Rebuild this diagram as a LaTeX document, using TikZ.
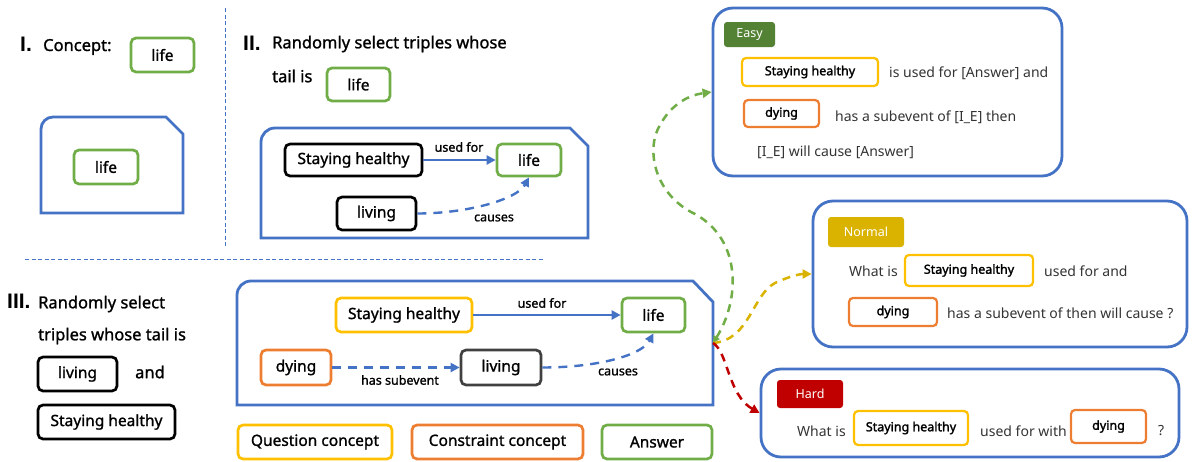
\documentclass[tikz,border=0pt]{standalone}
\usepackage{fontspec}
\setmainfont{Noto Sans}[BoldFont={Noto Sans}, BoldFeatures={FakeBold=2.5}]
\newfontfamily\medf{Noto Sans}[FakeBold=1.2]
\newfontfamily\semif{Noto Sans}[FakeBold=1.8]
\newfontfamily\romf{Liberation Sans}
\usetikzlibrary{arrows.meta}
\definecolor{cblue}{HTML}{4472C4}
\definecolor{cgreen}{HTML}{70AD47}
\definecolor{cyellow}{HTML}{FFC000}
\definecolor{corange}{HTML}{ED7D31}
\definecolor{cdgreen}{HTML}{548235}
\definecolor{cgold}{HTML}{DAB300}
\definecolor{cred}{HTML}{C00000}
\definecolor{cgray}{HTML}{404040}
\definecolor{ctext}{HTML}{333333}
\newcommand\fsz[1]{\fontsize{#1pt}{#1pt}\selectfont}
\begin{document}
\begin{tikzpicture}[x=1pt,y=-1pt,
  cbox/.style={draw, rounded corners=5pt, line width=2.7pt, inner sep=0pt, font=\medf\fsz{15.5}},
  gbox/.style={cbox, draw=cgreen},
  kbox/.style={cbox, draw=black},
  ybox/.style={cbox, draw=cyellow},
  obox/.style={cbox, draw=corange},
  dbox/.style={cbox, draw=cgray},
  pbox/.style={draw, rounded corners=4pt, line width=2.2pt, inner sep=0pt, font=\semif\fsz{12.5}},
  frame/.style={draw=cblue, line width=2.8pt},
  panel/.style={draw=cblue, line width=2.8pt, rounded corners=20pt, inner sep=0pt},
  tag/.style={rounded corners=3pt, inner sep=0pt, text=white, font=\fsz{12.5}},
  head/.style={anchor=west, inner sep=0pt, font=\medf\fsz{16.5}},
  roman/.style={anchor=west, inner sep=0pt, font=\romf\bfseries\fsz{21}},
  ptext/.style={anchor=west, inner sep=0pt, text=ctext, font=\fsz{14}},
  elabel/.style={inner sep=0pt, font=\medf\fsz{12.5}},
  rel/.style={cblue, line width=2.4pt, -{Triangle[length=9pt,width=9pt]}},
  drel/.style={rel, dash pattern=on 9pt off 7pt},
  sep/.style={cblue, line width=0.9pt, dash pattern=on 4pt off 2.5pt},
  darr/.style={line width=2.5pt, dash pattern=on 8pt off 6pt, -{Triangle[length=9pt,width=9pt]}}
]
\useasboundingbox (0,0) rectangle (1192,461);

% separators
\draw[sep] (225,8) -- (225,248);
\draw[sep] (25,259) -- (543,259);

% ---- Section I
\node[roman] (r1) at (20,44) {I.};
\node[head] (h1) at (43,47) {Concept:};
\node[gbox, minimum width=63, minimum height=34] (l1) at (162.5,55) {life};
\draw[frame] (41,213) [rounded corners=12pt]-- (41,117) [sharp corners]-- (166,117) -- (183,134) -- (183,213) -- cycle;
\node[gbox, minimum width=64, minimum height=34] (l1b) at (106,167) {life};

% ---- Section II
\node[roman] (r2) at (243,43) {II.};
\node[head] (h2a) at (272,44) {Randomly select triples whose};
\node[head] (h2b) at (272,76) {tail is};
\node[gbox, minimum width=63, minimum height=33] (l2) at (358.5,84.5) {life};
\draw[frame] (261,238) [rounded corners=14pt]-- (261,128) [sharp corners]-- (570,128) -- (588,146) -- (588,238) -- cycle;
\node[kbox, minimum width=137, minimum height=32] (sh2) at (353.5,160) {Staying healthy};
\node[gbox, minimum width=64, minimum height=32] (life2) at (529,160) {life};
\node[kbox, minimum width=79, minimum height=33] (liv2) at (376.5,213.5) {living};
\draw[rel] (sh2) -- (life2);
\node[elabel] (uf2) at (459,147) {used for};
\draw[drel] (liv2.east) .. controls +(50,0) and +(-12,22) .. (life2.south);
\node[elabel] (ca2) at (494,218) {causes};

% ---- Section III
\node[roman] (r3) at (7,301) {III.};
\node[head] (h3a) at (38,304) {Randomly select};
\node[head] (h3b) at (38,336) {triples whose tail is};
\node[kbox, minimum width=79, minimum height=34] (liv3) at (77.5,374) {living};
\node[head] (and3) at (135,372) {and};
\node[kbox, minimum width=137, minimum height=34] (sh3) at (106.5,422) {Staying healthy};

\draw[frame] (237,405) [rounded corners=14pt]-- (237,281) [sharp corners]-- (693,281) -- (713,302) -- (713,405) -- cycle;
\coordinate (src) at (713,343);
\node[ybox, minimum width=136, minimum height=34] (sh4) at (404,315) {Staying healthy};
\node[gbox, minimum width=63, minimum height=34] (life4) at (653.5,315) {life};
\node[obox, minimum width=70, minimum height=35] (dy4) at (296,367.5) {dying};
\node[dbox, minimum width=80, minimum height=35] (liv4) at (501,367.5) {living};
\draw[rel] (sh4) -- (life4);
\node[elabel] (uf4) at (542,303) {used for};
\draw[drel] (dy4) -- (liv4);
\node[elabel] (hs4) at (400,380) {has subevent};
\draw[drel] (liv4.east) .. controls +(55,0) and +(-12,22) .. (life4.south);
\node[elabel] (ca4) at (618,372) {causes};

% legend
\node[ybox, minimum width=154, minimum height=34] (lq) at (315,442) {Question concept};
\node[obox, minimum width=171, minimum height=34] (lc) at (497.5,442) {Constraint concept};
\node[gbox, minimum width=110, minimum height=34] (la) at (657,442) {Answer};

% ---- Easy panel
\node[panel, minimum width=349, minimum height=168] (easy) at (887.5,92) {};
\node[tag, fill=cdgreen, minimum width=51, minimum height=25] (te) at (749.5,34.5) {Easy};
\node[pbox, draw=cyellow, minimum width=136, minimum height=28] (she) at (810,72) {Staying healthy};
\node[ptext] (e1) at (889,73) {is used for [Answer] and};
\node[pbox, draw=corange, minimum width=75, minimum height=27] (dye) at (781.5,113.5) {dying};
\node[ptext] (e2) at (835,117) {has a subevent of [I\_E] then};
\node[ptext] (e3) at (757,152) {[I\_E] will cause [Answer]};

% ---- Normal panel
\node[panel, minimum width=374, minimum height=146] (normal) at (1000,274) {};
\node[tag, fill=cgold, minimum width=76, minimum height=30] (tn) at (866,232) {Normal};
\node[ptext] (n1) at (849,271) {What is};
\node[pbox, draw=cyellow, minimum width=128, minimum height=31] (shn) at (969,270.5) {Staying healthy};
\node[ptext] (n2) at (1044,271) {used for and};
\node[pbox, draw=corange, minimum width=88, minimum height=28] (dyn) at (893,312) {dying};
\node[ptext] (n3) at (947,313) {has a subevent of then will cause ?};

% ---- Hard panel
\node[panel, minimum width=418, minimum height=88] (hard) at (970,413) {};
\node[tag, fill=cred, minimum width=66, minimum height=28] (th) at (810,394) {Hard};
\node[ptext] (h1t) at (797,431) {What is};
\node[pbox, draw=cyellow, minimum width=114, minimum height=34] (shh) at (911,428) {Staying healthy};
\node[ptext] (h2t) at (980,431) {used for with};
\node[pbox, draw=corange, minimum width=75, minimum height=33] (dyh) at (1108.5,426.5) {dying};
\node[ptext] (h3t) at (1158,431) {?};

% ---- difficulty arrows
\draw[darr, cgreen, {Triangle[length=7pt,width=7pt]}-{Triangle[length=9pt,width=9pt]}]
  (src) .. controls (740,300) and (742,240) .. (695,214)
        .. controls (655,195) and (645,150) .. (660,125)
        .. controls (672,103) and (690,95) .. (easy.west);
\draw[darr, cgold] (src) .. controls (750,340) and (752,295) .. (775,283)
        .. controls (790,276) and (800,274) .. (normal.west);
\draw[darr, cred] (src) .. controls (728,352) and (728,395) .. (hard.west);
\end{tikzpicture}
\end{document}
